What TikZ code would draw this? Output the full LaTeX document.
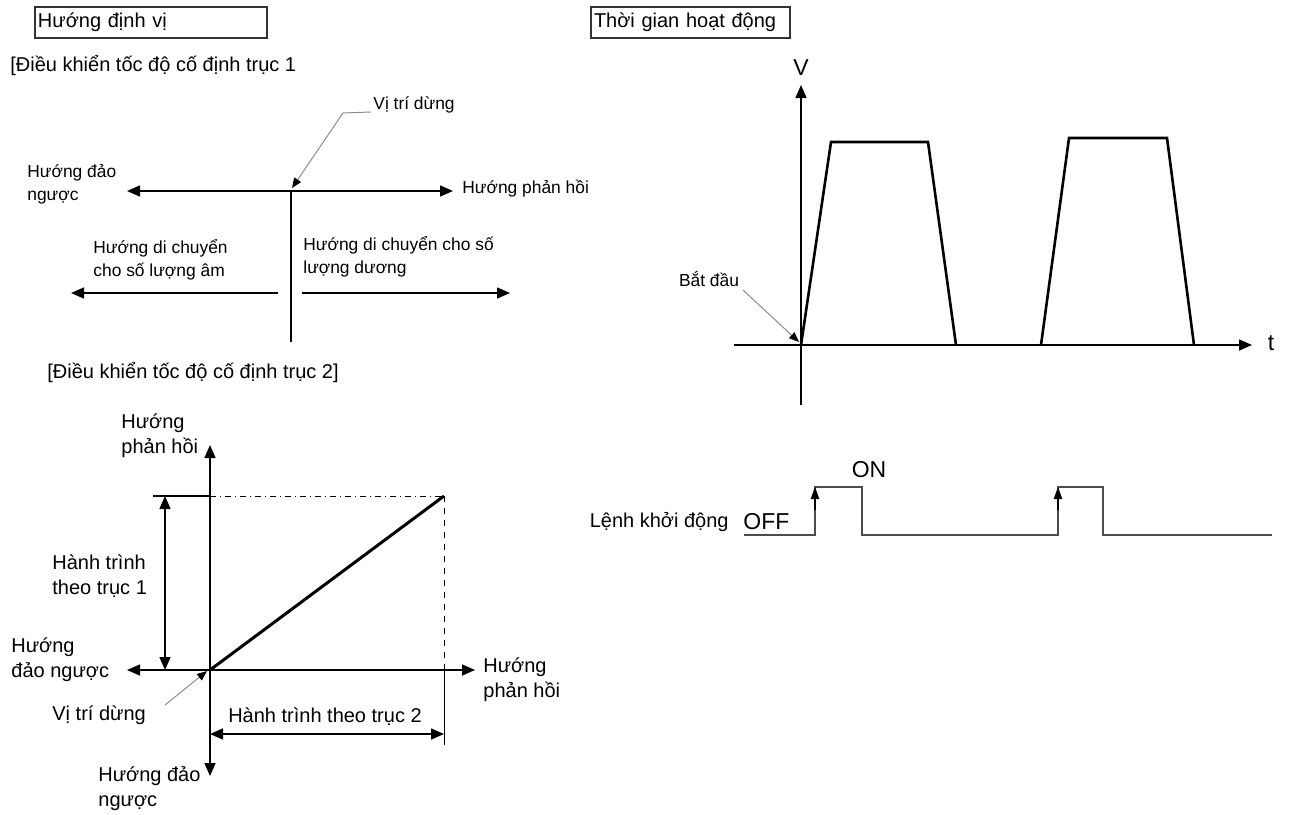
\documentclass[tikz,border=0pt]{standalone}
\usepackage{fontspec}
\setmainfont{Liberation Sans}
\usetikzlibrary{arrows.meta,positioning}

\begin{document}
\begin{tikzpicture}[
    x=0.5pt, y=-0.5pt,
    font=\fontsize{8.7}{11.5}\selectfont,
    axis/.style={line width=0.75pt},
    line/.style={-{Triangle[length=6.5pt,width=5.5pt]}, line width=0.75pt},
    both/.style={{Triangle[length=6.5pt,width=5.5pt]}-{Triangle[length=6.5pt,width=5.5pt]}, line width=0.75pt},
    lead/.style={draw=black!45, line width=0.5pt, -{Triangle[length=5pt,width=4pt,color=black]}},
    titlebox/.style={draw=black!80, line width=1.1pt, inner xsep=1.5pt, inner ysep=0pt, minimum height=15.5pt, align=left},
    lbl/.style={anchor=west, inner sep=0pt, align=left},
    big/.style={font=\fontsize{10}{12.5}\selectfont},
    huge/.style={font=\fontsize{11.5}{12}\selectfont},
    speed/.style={line width=1.3pt, line join=miter},
    signal/.style={draw=black!70, line width=1pt},
    edge/.style={-{Triangle[length=6pt,width=4.2pt]}, line width=0.6pt}
]
\useasboundingbox (0,0) rectangle (1290,814);

% ---- headers
\node[titlebox, text width=113pt, big] (head1) at (151,22.5) {Hướng định vị};
\node[titlebox, text width=96.5pt, big] (head2) at (690.5,22.5) {Thời gian hoạt động};
\node[lbl, big] (ax1) at (10,66) {[Điều khiển tốc độ cố định trục 1};
\node[lbl, big] (ax2) at (47,372) {[Điều khiển tốc độ cố định trục 2]};

% ---- axis 1
\coordinate (h1l) at (127,191);
\coordinate (h1r) at (453,191);
\coordinate (o1) at (291,191);
\coordinate (o1b) at (291,342);
\coordinate (m1l) at (278,293);
\coordinate (m1lt) at (71,293);
\coordinate (m1r) at (302,293);
\coordinate (m1rt) at (510,293);
\draw[both] (h1l) -- (h1r);
\draw[axis] (o1) -- (o1b);
\draw[line] (m1l) -- (m1lt);
\draw[line] (m1r) -- (m1rt);
\node[lbl] (rev1) at (27,184) {Hướng đảo\\ngược};
\node[lbl] (fwd1) at (462,189) {Hướng phản hồi};
\node[lbl] (neg1) at (93,260) {Hướng di chuyển\\cho số lượng âm};
\node[lbl] (pos1) at (303,257) {Hướng di chuyển cho số\\lượng dương};
\node[lbl] (stop1) at (373,105) {Vị trí dừng};
\coordinate (k0) at (371,112);
\coordinate (k1) at (343,113);
\draw[lead] (k0) -- (k1) -- (292,188);

% ---- axis 2
\coordinate (o2) at (210,670);
\coordinate (v2t) at (210,445);
\coordinate (v2b) at (210,776);
\coordinate (h2l) at (127,670);
\coordinate (h2r) at (475,670);
\coordinate (e2) at (444,496);
\coordinate (e2y) at (210,496);
\coordinate (e2x) at (444,670);
\draw[line] (o2) -- (v2t);
\draw[line] (o2) -- (v2b);
\draw[both] (h2l) -- (h2r);
\draw[axis] (153,496) -- (e2y);
\draw[line width=0.5pt, dash dot] (e2y) -- (e2);
\draw[line width=0.5pt, dashed] (e2) -- (e2x);
\draw[line width=0.5pt] (e2x) -- (444,745);
\draw[line width=1.5pt] (o2) -- (e2);
\draw[both] (165,496) -- (165,670);
\draw[both] (210,734) -- (444,734);
\node[big, inner sep=0pt] (st2) at (325,717) {Hành trình theo trục 2};
\node[lbl, big] (st1) at (52,576) {Hành trình\\theo trục 1};
\node[lbl, big] (rev2) at (11,660) {Hướng\\đảo ngược};
\node[lbl, big] (fwd2) at (483,680) {Hướng\\phản hồi};
\node[lbl, big] (up2) at (121,436) {Hướng\\phản hồi};
\node[lbl, big] (dn2) at (98,789) {Hướng đảo\\ngược};
\node[lbl, big] (stop2) at (52,715) {Vị trí dừng};
\draw[lead] (165,705) -- (207,671);

% ---- speed chart
\coordinate (o3) at (801,345);
\coordinate (v3t) at (801,85);
\coordinate (v3b) at (801,405);
\coordinate (t3l) at (734,345);
\coordinate (t3r) at (1252,345);
\draw[axis] (o3) -- (v3b);
\draw[line] (o3) -- (v3t);
\draw[line] (t3l) -- (t3r);
\node[huge] (vlab) at (801,68) {V};
\node[huge] (tlab) at (1271,343) {t};
\draw[speed] (o3) -- (831,142) -- (928,142) -- (956,345);
\draw[speed] (1041,345) -- (1069,138) -- (1167,138) -- (1194,345);
\node[inner sep=0pt] (start) at (709,279) {Bắt đầu};
\draw[lead] (743,290) -- (799,342);

% ---- start command
\node[lbl, big, anchor=east] (cmd) at (729,522) {Lệnh khởi động};
\node[lbl, huge] (off) at (743,522) {OFF};
\node[huge] (on) at (869,470) {ON};
\draw[signal] (744,535) -- (815,535) -- (815,487) -- (862,487) -- (862,535)
    -- (1058,535) -- (1058,487) -- (1103,487) -- (1103,535) -- (1272,535);
\draw[edge] (815,510) -- (815,487);
\draw[edge] (1058,510) -- (1058,487);
\end{tikzpicture}
\end{document}
